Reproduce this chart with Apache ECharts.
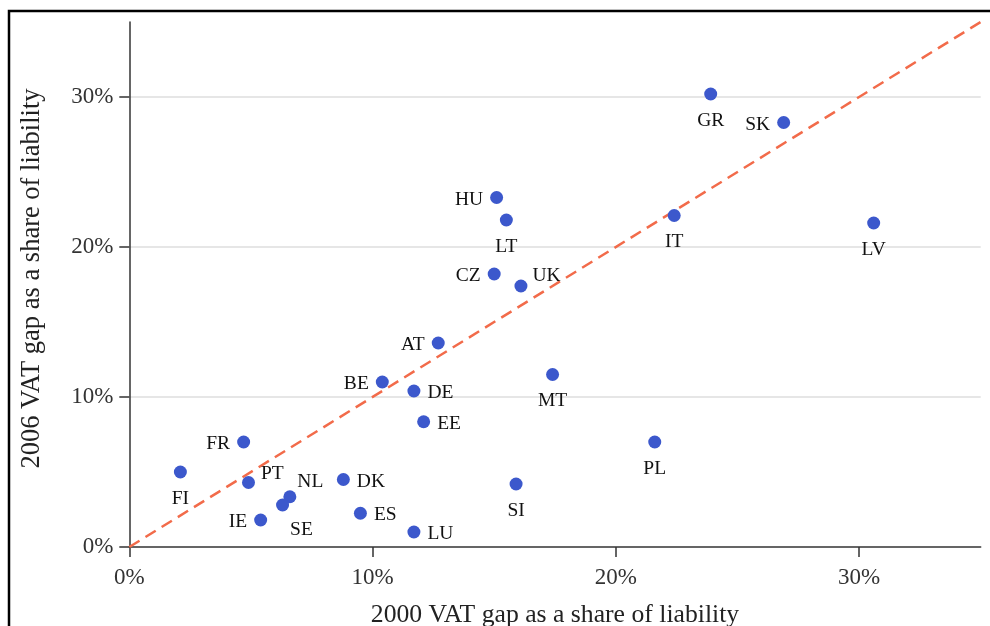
<!DOCTYPE html>
<html>
<head>
<meta charset="utf-8">
<script src="https://cdn.jsdelivr.net/npm/echarts@6/dist/echarts.min.js"></script>
<style>
html,body{margin:0;padding:0;background:#fff;}
#c{width:990px;height:626px;}
</style>
</head>
<body>
<div id="c"></div>
<script>
var countries = ['FI','FR','PT','NL','SE','IE','DK','ES','LU','SI','EE','DE','BE','AT','MT','PL','CZ','UK','LT','HU','IT','LV','GR','SK'];
var gap2000 = [2.1,4.7,4.9,6.6,6.3,5.4,8.8,9.5,11.7,15.9,12.1,11.7,10.4,12.7,17.4,21.6,15.0,16.1,15.5,15.1,22.4,30.6,23.9,26.9];
var gap2006 = [5.0,7.0,4.3,3.35,2.8,1.8,4.5,2.25,1.0,4.2,8.35,10.4,11.0,13.6,11.5,7.0,18.2,17.4,21.8,23.3,22.1,21.6,30.2,28.3];
var xTicks = [0,10,20,30];
var yTicks = [0,10,20,30];
var axisMax = 35;

var B = {position:'bottom', distance:10, offset:[0,0]};
var L = {position:'left', offset:[0,2]};
var R = {position:'right', offset:[0,2]};
var labelStyle = {
  GR:B, SK:L, HU:L, LT:B, IT:B, LV:B, CZ:L,
  UK:{position:'right', offset:[-2,-10]},
  AT:L, BE:L, DE:R, MT:B, EE:R, FR:L, FI:B,
  PT:{position:'right', offset:[-1,-9]},
  NL:{position:'right', offset:[-6,-15]},
  SE:{position:'right', offset:[-6,25]},
  IE:L, DK:R, ES:R, LU:R, SI:B, PL:B
};

var pts = countries.map(function(c,i){
  var ls = labelStyle[c] || R;
  return {name:c, value:[gap2000[i], gap2006[i]], label:ls};
});

var serif = 'Liberation Serif, Times New Roman, serif';
var chart = echarts.init(document.getElementById('c'), null, {renderer:'canvas'});
chart.setOption({
  backgroundColor:'#ffffff',
  animation:false,
  graphic:[{
    type:'rect', silent:true, z:100,
    shape:{x:9, y:11, width:1200, height:1000},
    style:{fill:'none', stroke:'#000', lineWidth:2.5}
  }],
  grid:{left:129.3, right:9.3, top:22, bottom:79, containLabel:false, outerBoundsMode:'none'},
  xAxis:{
    type:'value', min:0, max:axisMax, interval:10,
    name:'2000 VAT gap as a share of liability', nameLocation:'middle', nameGap:55,
    nameTextStyle:{fontFamily:serif, fontSize:25.7, color:'#222'},
    axisLine:{show:true, onZero:false, lineStyle:{color:'#333', width:1.5}},
    axisTick:{show:true, length:10, customValues:xTicks, lineStyle:{color:'#333', width:1.5}},
    axisLabel:{customValues:xTicks, formatter:'{value}%', fontFamily:serif, fontSize:23, color:'#333', margin:19},
    splitLine:{show:false}
  },
  yAxis:{
    type:'value', min:0, max:axisMax, interval:10,
    name:'2006 VAT gap as a share of liability', nameLocation:'middle', nameGap:84,
    nameTextStyle:{fontFamily:serif, fontSize:26.5, color:'#222', padding:[0,0,0,12]},
    axisLine:{show:true, onZero:false, lineStyle:{color:'#333', width:1.5}},
    axisTick:{show:true, length:10, customValues:yTicks, lineStyle:{color:'#333', width:1.5}},
    axisLabel:{customValues:yTicks, formatter:'{value}%', fontFamily:serif, fontSize:23, color:'#333', margin:16},
    splitLine:{show:true, lineStyle:{color:['transparent','#e6e6e6','#e6e6e6','#e6e6e6','transparent'], width:2}}
  },
  series:[
    {
      type:'line', data:[[0,0],[axisMax,axisMax]], symbol:'none', silent:true, z:1,
      lineStyle:{color:'#f26b4a', width:2.5, type:[12,7]}
    },
    {
      type:'scatter', data:pts, symbolSize:13, z:3,
      itemStyle:{color:'#3c58cc', opacity:1},
      label:{show:true, formatter:'{b}', fontFamily:serif, fontSize:19.5, color:'#111', distance:7}
    }
  ]
});
</script>
</body>
</html>
